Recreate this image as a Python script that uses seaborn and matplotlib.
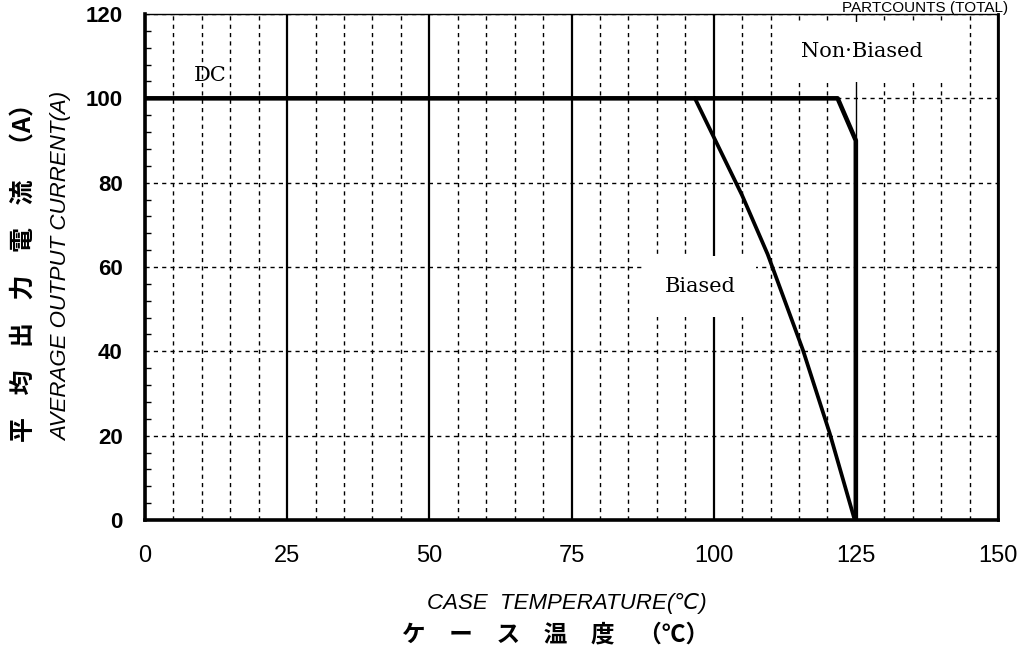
import numpy as np
import pandas as pd
import seaborn as sns
from matplotlib import pyplot as plt
from matplotlib.ticker import MultipleLocator

# 데이터
dc_temp = [0, 121.8, 125, 125]
dc_curr = [100, 100, 90, 0]
biased_temp = [96.7, 105, 109.5, 115.7, 120.4, 124.8]
biased_curr = [100, 77, 63, 40.3, 20.6, 0]

x_ticks = [0, 25, 50, 75, 100, 125, 150]
y_ticks = [0, 20, 40, 60, 80, 100, 120]

sns.set_theme(style='white')
plt.rcParams['font.family'] = ['Liberation Sans', 'Noto Sans CJK JP', 'DejaVu Sans']
plt.rcParams['text.color'] = 'black'
plt.rcParams['xtick.color'] = 'black'
plt.rcParams['ytick.color'] = 'black'
sans = ['Liberation Sans', 'DejaVu Sans']
cjk = ['Noto Sans CJK JP', 'DejaVu Sans']
serif = ['DejaVu Serif']

fig = plt.figure(figsize=(10.23, 6.59), dpi=100)
ax = fig.add_axes([145 / 1023, 1 - 520 / 659, 853 / 1023, 506 / 659])

dc = pd.DataFrame({'temp': dc_temp, 'curr': dc_curr})
bi = pd.DataFrame({'temp': biased_temp, 'curr': biased_curr})
sns.lineplot(data=dc, x='temp', y='curr', sort=False, estimator=None,
             color='black', lw=3.3, ax=ax, zorder=5)
sns.lineplot(data=bi, x='temp', y='curr', sort=False, estimator=None,
             color='black', lw=2.7, ax=ax, zorder=5)

ax.set_xlim(0, 150)
ax.set_ylim(0, 120)
ax.set_xticks(x_ticks)
ax.set_yticks(y_ticks)
ax.xaxis.set_minor_locator(MultipleLocator(5))
ax.yaxis.set_minor_locator(MultipleLocator(4))

# 격자
ax.grid(which='major', axis='x', color='black', lw=1.6, ls='-', zorder=1)
ax.grid(which='minor', axis='x', color='black', lw=1.0, ls=(0, (3, 3)), zorder=1)
ax.grid(which='major', axis='y', color='black', lw=1.0, ls=(0, (3, 3)), zorder=1)
ax.set_axisbelow(True)
for t, gl in zip(ax.get_xticks(), ax.get_xgridlines()):
    if t == 125:
        gl.set_linewidth(1.0)

ax.tick_params(axis='x', which='both', length=0, pad=18)
ax.tick_params(axis='y', which='major', length=0, pad=16)
ax.tick_params(axis='y', which='minor', left=True, direction='in', length=4, width=1, color='black')
for lab in ax.get_xticklabels():
    lab.set_fontfamily(sans)
    lab.set_fontsize(17)
for lab in ax.get_yticklabels():
    lab.set_fontfamily(sans)
    lab.set_fontsize(16)
    lab.set_fontweight('bold')

for side, w in [('left', 2.6), ('bottom', 2.6), ('right', 2.0), ('top', 1.0)]:
    ax.spines[side].set_color('black')
    ax.spines[side].set_linewidth(w)

ax.set_xlabel('')
ax.set_ylabel('')

# 라벨
ax.text(11.5, 105.5, 'DC', family=serif, fontsize=15, ha='center', va='center', zorder=4)
ax.text(126, 111, 'Non·Biased', family=serif, fontsize=15, ha='center', va='center', zorder=4,
        bbox=dict(boxstyle='square,pad=1.0', fc='white', ec='none'))
ax.text(97.6, 55.3, 'Biased', family=serif, fontsize=15, ha='center', va='center', zorder=4,
        bbox=dict(boxstyle='square,pad=1.0', fc='white', ec='none'))

fig.text(925 / 1023, 1 - 1 / 659, 'PARTCOUNTS (TOTAL)', family=sans, fontsize=11,
         ha='center', va='top')

fig.text(25 / 1023, 1 - 266 / 659, '平    均    出    力    電    流    （A）', family=cjk,
         fontsize=18, fontweight='bold', rotation=90, ha='center', va='center')
fig.text(62 / 1023, 1 - 266 / 659, 'AVERAGE OUTPUT CURRENT(A)', family=sans, style='italic',
         fontsize=16, rotation=90, ha='center', va='center')
fig.text(567 / 1023, 1 - 603 / 659, 'CASE  TEMPERATURE(℃)', family=sans, style='italic',
         fontsize=16, ha='center', va='center')
fig.text(556 / 1023, 1 - 634 / 659, 'ケ　ー　ス　温　度　（℃）', family=cjk, fontsize=17,
         fontweight='bold', ha='center', va='center')

fig.savefig('out.png', dpi=100)
